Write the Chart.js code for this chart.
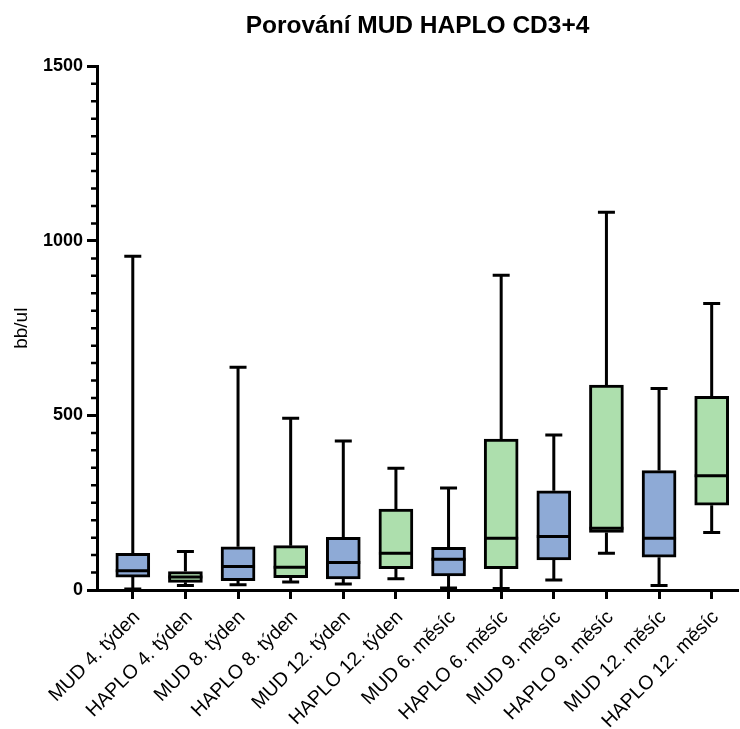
<!DOCTYPE html>
<html>
<head>
<meta charset="utf-8">
<title>Porování MUD HAPLO CD3+4</title>
<script src="https://cdn.jsdelivr.net/npm/chart.js@4.4.0/dist/chart.umd.min.js"></script>
<style>
  html, body { margin: 0; padding: 0; background: #fff; }
  #wrap { width: 740px; height: 729px; }
</style>
</head>
<body>
<div id="wrap"><canvas id="chart" width="740" height="729"></canvas></div>
<script>
// categories and box-plot values (min, Q1, median, Q3, max)
const labels = ['MUD 4. týden', 'HAPLO 4. týden', 'MUD 8. týden', 'HAPLO 8. týden',
    'MUD 12. týden', 'HAPLO 12. týden', 'MUD 6. měsíc', 'HAPLO 6. měsíc',
    'MUD 9. měsíc', 'HAPLO 9. měsíc', 'MUD 12. měsíc', 'HAPLO 12. měsíc'];
const mins    = [3, 13, 15, 23, 17, 32, 6, 4, 29, 105, 13, 165];
const q1      = [37, 22, 27, 35, 32, 61, 40, 61, 86, 165, 94, 243];
const medians = [55, 37, 67, 65, 79, 105, 88, 148, 153, 177, 148, 327];
const q3      = [105, 53, 124, 127, 151, 232, 122, 432, 284, 587, 342, 555];
const maxs    = [956, 110, 638, 492, 427, 349, 292, 902, 444, 1082, 577, 821];
const yTicks  = [0, 500, 1000, 1500];

Chart.defaults.font.family = "'Liberation Sans', Arial, sans-serif";
Chart.defaults.color = '#000';

const blue = '#8eaad6';
const green = '#addfad';

// whiskers, caps and median lines on top of the floating bars
const boxWhiskers = {
    id: 'boxWhiskers',
    afterDatasetsDraw(chart) {
        const meta = chart.getDatasetMeta(0);
        const y = chart.scales.y;
        const ctx = chart.ctx;
        const cap = 8.5;
        ctx.save();
        ctx.strokeStyle = '#000';
        ctx.lineWidth = 3;
        meta.data.forEach(function(bar, i) {
            const x = bar.x;
            const half = bar.width / 2;
            const pMin = y.getPixelForValue(mins[i]);
            const pMax = y.getPixelForValue(maxs[i]);
            const pQ1 = y.getPixelForValue(q1[i]);
            const pQ3 = y.getPixelForValue(q3[i]);
            const pMed = y.getPixelForValue(medians[i]);
            ctx.beginPath();
            ctx.moveTo(x, pQ3); ctx.lineTo(x, pMax);
            ctx.moveTo(x - cap, pMax); ctx.lineTo(x + cap, pMax);
            ctx.moveTo(x, pQ1); ctx.lineTo(x, pMin);
            ctx.moveTo(x - cap, pMin); ctx.lineTo(x + cap, pMin);
            ctx.moveTo(x - half, pMed); ctx.lineTo(x + half, pMed);
            ctx.stroke();
        });
        ctx.restore();
    }
};

// short minor ticks every 50 on the y axis
const minorTicks = {
    id: 'minorTicks',
    afterDraw(chart) {
        const y = chart.scales.y;
        const ctx = chart.ctx;
        const x0 = chart.chartArea.left;
        ctx.save();
        ctx.strokeStyle = '#000';
        ctx.lineWidth = 2.5;
        ctx.beginPath();
        for (let v = 50; v < 1500; v += 50) {
            if (v % 500 === 0) continue;
            const py = y.getPixelForValue(v);
            ctx.moveTo(x0, py);
            ctx.lineTo(x0 - 6, py);
        }
        ctx.stroke();
        ctx.restore();
    }
};

const ctx = document.getElementById('chart').getContext('2d');
new Chart(ctx, {
    type: 'bar',
    data: {
        datasets: [{
            data: labels.map((l, i) => ({ x: i, y: [q1[i], q3[i]] })),
            backgroundColor: labels.map(l => l.startsWith('MUD') ? blue : green),
            borderColor: '#000',
            borderWidth: 3,
            borderSkipped: false,
            barThickness: 34
        }]
    },
    options: {
        responsive: false,
        animation: false,
        devicePixelRatio: 1,
        layout: { padding: { left: 0, right: 2, top: 0, bottom: 0 } },
        plugins: {
            legend: { display: false },
            tooltip: { enabled: false },
            title: {
                display: true,
                fullSize: false,
                text: 'Porování MUD HAPLO CD3+4',
                color: '#000',
                font: { size: 24.5, weight: 'bold' },
                padding: { top: 12, bottom: 25 }
            }
        },
        scales: {
            x: {
                type: 'linear',
                offset: false,
                min: -0.68,
                max: 11.5,
                afterBuildTicks: function(scale) {
                    scale.ticks = labels.map((l, i) => ({ value: i }));
                },
                afterFit: function(scale) {
                    scale.height = 139;
                    scale.paddingLeft = 0;
                    scale.paddingRight = 0;
                },
                grid: {
                    offset: false,
                    drawOnChartArea: false,
                    tickLength: 9,
                    tickWidth: 3,
                    tickColor: '#000'
                },
                border: { color: '#000', width: 3 },
                ticks: {
                    autoSkip: false,
                    maxRotation: 45,
                    minRotation: 45,
                    padding: 7,
                    labelOffset: 4,
                    color: '#000',
                    font: { size: 19.5 },
                    callback: function(value) { return labels[value]; }
                }
            },
            y: {
                min: 0,
                max: 1500,
                afterBuildTicks: function(scale) {
                    scale.ticks = yTicks.map(v => ({ value: v }));
                },
                afterFit: function(scale) {
                    scale.width = 97;
                },
                grid: {
                    drawOnChartArea: false,
                    tickLength: 10,
                    tickWidth: 3,
                    tickColor: '#000'
                },
                border: { color: '#000', width: 3 },
                ticks: {
                    padding: 4,
                    color: '#000',
                    font: { size: 18, weight: 'bold' },
                    callback: function(value) { return String(value); }
                },
                title: {
                    display: true,
                    text: 'bb/ul',
                    color: '#000',
                    font: { size: 19 },
                    padding: { top: 10, bottom: 0 }
                }
            }
        }
    },
    plugins: [boxWhiskers, minorTicks]
});
</script>
</body>
</html>
